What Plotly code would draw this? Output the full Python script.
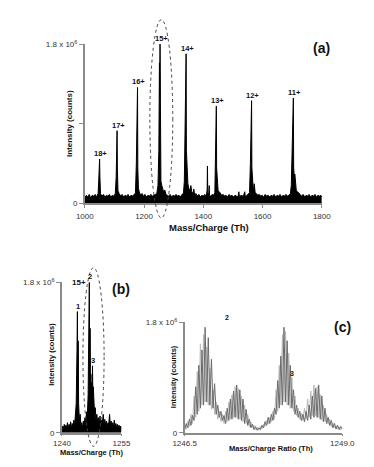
import plotly.graph_objects as go

W, H = 374, 467


def px(x):
    return x / W


def py(y):
    return 1 - y / H


FONT = "Liberation Sans, Arial, sans-serif"
SCALE = 1e6

# ---------------- Panel (a): full spectrum ----------------
a_mz = [1000, 1005, 1010, 1015, 1020, 1025, 1030, 1035, 1040, 1045, 1047, 1049, 1050, 1051, 1053,
        1058, 1063, 1068, 1073, 1078, 1083, 1088, 1093, 1098, 1103, 1106, 1108, 1109, 1110, 1112,
        1116, 1121, 1126, 1131, 1136, 1141, 1146, 1151, 1156, 1161, 1166, 1171, 1174, 1176, 1177,
        1178, 1179, 1181, 1184, 1188, 1193, 1198, 1203, 1208, 1213, 1218, 1223, 1228, 1233, 1238,
        1243, 1247, 1250, 1252, 1253, 1254, 1255, 1257, 1260, 1263, 1266, 1270, 1274, 1278, 1283,
        1288, 1293, 1298, 1303, 1308, 1313, 1318, 1323, 1328, 1333, 1336, 1338, 1339, 1341, 1342,
        1343, 1345, 1348, 1351, 1355, 1358, 1361, 1365, 1368, 1371, 1375, 1380, 1385, 1390, 1395,
        1400, 1405, 1410, 1413, 1414, 1415, 1418, 1420, 1421, 1425, 1430, 1435, 1439, 1441, 1442,
        1443, 1444, 1445, 1447, 1450, 1454, 1458, 1462, 1467, 1472, 1477, 1482, 1487, 1492, 1497,
        1502, 1507, 1512, 1517, 1520, 1522, 1527, 1532, 1537, 1540, 1542, 1547, 1552, 1556, 1559,
        1561, 1562, 1563, 1564, 1566, 1569, 1572, 1575, 1579, 1584, 1589, 1594, 1599, 1604, 1609,
        1614, 1619, 1624, 1629, 1634, 1639, 1644, 1649, 1654, 1659, 1664, 1669, 1674, 1679, 1684,
        1689, 1694, 1697, 1699, 1701, 1702, 1704, 1705, 1707, 1709, 1711, 1714, 1718, 1722, 1727,
        1732, 1737, 1742, 1747, 1752, 1757, 1762, 1767, 1772, 1777, 1782, 1787, 1792, 1797, 1800]
a_int = [0.06, 0.09, 0.07, 0.10, 0.06, 0.09, 0.08, 0.10, 0.07, 0.11, 0.25, 0.40, 0.50, 0.30, 0.11,
         0.08, 0.10, 0.07, 0.09, 0.08, 0.10, 0.07, 0.09, 0.08, 0.11, 0.30, 0.60, 0.82, 0.40, 0.14,
         0.11, 0.08, 0.10, 0.07, 0.09, 0.08, 0.10, 0.07, 0.09, 0.08, 0.10, 0.11, 0.45, 1.05, 0.70,
         1.31, 0.40, 0.17, 0.13, 0.09, 0.11, 0.08, 0.10, 0.07, 0.09, 0.08, 0.10, 0.08, 0.09, 0.10,
         0.11, 0.20, 0.60, 1.59, 1.20, 1.80, 0.70, 0.25, 0.20, 0.17, 0.13, 0.15, 0.10, 0.09, 0.08,
         0.10, 0.07, 0.09, 0.08, 0.10, 0.08, 0.09, 0.07, 0.10, 0.11, 0.25, 0.75, 0.80, 0.90, 1.69,
         0.60, 0.30, 0.22, 0.17, 0.14, 0.20, 0.13, 0.11, 0.16, 0.09, 0.11, 0.08, 0.10, 0.07, 0.09,
         0.08, 0.10, 0.08, 0.15, 0.42, 0.12, 0.09, 0.20, 0.09, 0.08, 0.10, 0.09, 0.12, 0.50, 0.86,
         0.60, 1.10, 0.40, 0.22, 0.14, 0.13, 0.11, 0.09, 0.10, 0.08, 0.09, 0.07, 0.10, 0.08, 0.09,
         0.07, 0.09, 0.08, 0.07, 0.13, 0.07, 0.09, 0.08, 0.10, 0.13, 0.07, 0.09, 0.10, 0.12, 0.45,
         0.85, 0.60, 1.16, 0.40, 0.20, 0.14, 0.22, 0.12, 0.11, 0.09, 0.10, 0.08, 0.09, 0.07, 0.10,
         0.08, 0.09, 0.07, 0.09, 0.08, 0.10, 0.07, 0.09, 0.08, 0.10, 0.07, 0.09, 0.08, 0.10, 0.08,
         0.09, 0.11, 0.20, 0.50, 0.45, 0.80, 1.19, 0.40, 0.30, 0.33, 0.22, 0.14, 0.13, 0.11, 0.10,
         0.08, 0.10, 0.07, 0.09, 0.08, 0.10, 0.07, 0.09, 0.08, 0.10, 0.07, 0.09, 0.08, 0.09, 0.07]
a_peak_mz = [1050, 1109, 1178, 1254, 1342, 1444, 1563, 1704]
a_peak_int = [0.50, 0.82, 1.31, 1.80, 1.69, 1.10, 1.16, 1.19]
a_peak_lbl = ["18+", "17+", "16+", "15+", "14+", "13+", "12+", "11+"]
a_xticks = [1000, 1200, 1400, 1600, 1800]

# ---------------- Panel (b): 15+ charge state ----------------
b_mz = [1240.0, 1240.2, 1240.4, 1240.6, 1240.8, 1241.0, 1241.2, 1241.4, 1241.6, 1241.8, 1242.0,
        1242.2, 1242.4, 1242.6, 1242.8, 1243.0, 1243.2, 1243.4, 1243.6, 1243.8, 1243.9, 1244.0,
        1244.1, 1244.2, 1244.4, 1244.6, 1244.8, 1245.0, 1245.2, 1245.4, 1245.6, 1245.8, 1246.0,
        1246.2, 1246.4, 1246.6, 1246.7, 1246.8, 1246.9, 1247.0, 1247.1, 1247.2, 1247.3, 1247.4,
        1247.5, 1247.6, 1247.7, 1247.8, 1247.9, 1248.0, 1248.1, 1248.2, 1248.4, 1248.6, 1248.8,
        1249.0, 1249.2, 1249.4, 1249.6, 1249.8, 1250.0, 1250.2, 1250.4, 1250.6, 1250.8, 1251.0,
        1251.2, 1251.4, 1251.6, 1251.8, 1252.0, 1252.2, 1252.4, 1252.6, 1252.8, 1253.0, 1253.2,
        1253.4, 1253.6, 1253.8, 1254.0, 1254.2, 1254.4, 1254.6, 1254.8, 1255.0]
b_int = [0.02, 0.08, 0.05, 0.10, 0.04, 0.09, 0.06, 0.12, 0.05, 0.10, 0.07,
         0.13, 0.06, 0.11, 0.08, 0.15, 0.09, 0.20, 0.35, 1.00, 1.45, 0.60,
         1.10, 0.35, 0.15, 0.22, 0.08, 0.12, 0.06, 0.14, 0.09, 0.18, 0.12,
         0.25, 0.20, 0.45, 1.30, 0.70, 1.80, 0.80, 1.25, 0.55, 0.70, 0.45,
         0.60, 0.40, 0.80, 0.45, 0.55, 0.30, 0.45, 0.25, 0.30, 0.15, 0.22,
         0.12, 0.18, 0.10, 0.20, 0.08, 0.15, 0.12, 0.22, 0.10, 0.16, 0.09,
         0.14, 0.07, 0.12, 0.10, 0.22, 0.09, 0.14, 0.06, 0.12, 0.08, 0.15,
         0.06, 0.11, 0.05, 0.10, 0.06, 0.09, 0.04, 0.08, 0.05]
b_lbl_mz = [1243.9, 1246.9, 1247.7]
b_lbl_int = [1.45, 1.80, 0.80]
b_lbl = ["1", "2", "3"]

# ---------------- Panel (c): zoom on peaks 2 and 3 ----------------
c_mz = [1246.500, 1246.525, 1246.550, 1246.575, 1246.600, 1246.625, 1246.650, 1246.675, 1246.700,
        1246.725, 1246.750, 1246.775, 1246.800, 1246.825, 1246.850, 1246.875, 1246.900, 1246.925,
        1246.950, 1246.975, 1247.000, 1247.025, 1247.050, 1247.075, 1247.100, 1247.125, 1247.150,
        1247.175, 1247.200, 1247.225, 1247.250, 1247.275, 1247.300, 1247.325, 1247.350, 1247.375,
        1247.400, 1247.425, 1247.450, 1247.475, 1247.500, 1247.525, 1247.550, 1247.575, 1247.600,
        1247.625, 1247.650, 1247.675, 1247.700, 1247.725, 1247.750, 1247.775, 1247.800, 1247.825,
        1247.850, 1247.875, 1247.900, 1247.925, 1247.950, 1247.975, 1248.000, 1248.025, 1248.050,
        1248.075, 1248.100, 1248.125, 1248.150, 1248.175, 1248.200, 1248.225, 1248.250, 1248.275,
        1248.300, 1248.325, 1248.350, 1248.375, 1248.400, 1248.425, 1248.450, 1248.475, 1248.500,
        1248.525, 1248.550, 1248.575, 1248.600, 1248.625, 1248.650, 1248.675, 1248.700, 1248.725,
        1248.750, 1248.775, 1248.800, 1248.825, 1248.850, 1248.875, 1248.900, 1248.925, 1248.950,
        1248.975, 1249.000]
c_int_dark = [0.05, 0.15, 0.08, 0.22, 0.12, 0.28, 0.20, 0.75, 0.30, 1.10, 0.40, 1.35, 0.45, 1.72,
              0.50, 1.55, 0.45, 1.20, 0.40, 0.80, 0.30, 0.45, 0.25, 0.35, 0.20, 0.28, 0.15, 0.40,
              0.20, 0.55, 0.22, 0.68, 0.25, 0.78, 0.22, 0.70, 0.20, 0.55, 0.15, 0.38, 0.12, 0.22,
              0.08, 0.14, 0.05, 0.10, 0.04, 0.08, 0.05, 0.12, 0.08, 0.18, 0.12, 0.25, 0.15, 0.30,
              0.20, 0.40, 0.30, 0.85, 0.40, 1.25, 0.45, 1.72, 0.50, 1.50, 0.45, 1.10, 0.40, 0.70,
              0.30, 0.45, 0.25, 0.35, 0.20, 0.30, 0.18, 0.35, 0.20, 0.45, 0.22, 0.60, 0.25, 0.72,
              0.25, 0.78, 0.22, 0.60, 0.18, 0.40, 0.15, 0.25, 0.12, 0.20, 0.08, 0.15, 0.06, 0.12,
              0.05, 0.10, 0.06]
c_int_light = [0.10, 0.06, 0.18, 0.10, 0.30, 0.15, 0.60, 0.25, 1.00, 0.35, 1.45, 0.45, 1.60, 0.50,
               1.40, 0.45, 1.05, 0.38, 0.70, 0.30, 0.50, 0.22, 0.35, 0.18, 0.30, 0.15, 0.35, 0.18,
               0.50, 0.22, 0.62, 0.25, 0.75, 0.25, 0.72, 0.22, 0.60, 0.18, 0.45, 0.15, 0.30, 0.10,
               0.18, 0.08, 0.12, 0.05, 0.08, 0.04, 0.10, 0.06, 0.14, 0.10, 0.20, 0.14, 0.25, 0.18,
               0.35, 0.22, 0.70, 0.35, 1.10, 0.45, 1.60, 0.50, 1.65, 0.45, 1.30, 0.40, 0.90, 0.35,
               0.60, 0.28, 0.40, 0.22, 0.32, 0.20, 0.40, 0.22, 0.55, 0.25, 0.68, 0.28, 0.78, 0.28,
               0.75, 0.25, 0.62, 0.20, 0.45, 0.18, 0.30, 0.14, 0.22, 0.10, 0.16, 0.08, 0.12, 0.06,
               0.10, 0.05, 0.08]
c_lbl3_mz = 1248.2
c_lbl3_int = 0.96

fig = go.Figure()

fig.add_trace(go.Scatter(x=a_mz, y=[v * SCALE for v in a_int], mode="lines",
                         line=dict(color="black", width=1), fill="tozeroy", fillcolor="black",
                         xaxis="x", yaxis="y", showlegend=False, hoverinfo="skip"))
fig.add_trace(go.Scatter(x=b_mz, y=[v * SCALE for v in b_int], mode="lines",
                         line=dict(color="black", width=1), fill="tozeroy", fillcolor="black",
                         xaxis="x2", yaxis="y2", showlegend=False, hoverinfo="skip"))
fig.add_trace(go.Scatter(x=c_mz, y=[v * SCALE for v in c_int_light], mode="lines",
                         line=dict(color="#b8b8b8", width=1),
                         xaxis="x3", yaxis="y3", showlegend=False, hoverinfo="skip"))
fig.add_trace(go.Scatter(x=c_mz, y=[v * SCALE for v in c_int_dark], mode="lines",
                         line=dict(color="#6a6a6a", width=1),
                         xaxis="x3", yaxis="y3", showlegend=False, hoverinfo="skip"))

tickfont = dict(family=FONT, size=8, color="#333")
axcommon = dict(showgrid=False, zeroline=False, showline=True, linecolor="#8a8a8a",
                linewidth=1.5, ticks="outside", tickcolor="#8a8a8a",
                tickfont=tickfont, fixedrange=True)
ytxt = "1.8 x 10<sup>6</sup>"

layout = dict(
    width=W, height=H, autosize=False,
    margin=dict(l=0, r=0, t=0, b=0),
    paper_bgcolor="white", plot_bgcolor="white",
    font=dict(family=FONT, color="#222"),
    xaxis=dict(domain=[px(78), px(332)], range=[1000, 1800], tickvals=a_xticks,
               anchor="y", ticklen=3, ticklabelstandoff=1, **axcommon),
    yaxis=dict(domain=[py(202), py(39)], range=[0, 1.8 * SCALE],
               tickvals=[0, 0.9 * SCALE, 1.8 * SCALE], ticktext=["0", " ", ytxt],
               anchor="x", ticklen=4, **axcommon),
    xaxis2=dict(domain=[px(53.5), px(117.3)], range=[1240, 1255], tickvals=[1240, 1255],
                anchor="y2", ticklen=2, ticklabelstandoff=0, **axcommon),
    yaxis2=dict(domain=[py(437), py(283)], range=[0, 1.8 * SCALE],
                tickvals=[0, 1.8 * SCALE], ticktext=["0", ytxt], anchor="x2", ticklen=4,
                **axcommon),
    xaxis3=dict(domain=[px(185), px(354)], range=[1246.5, 1249.0], tickvals=[1246.5, 1249.0],
                ticktext=["1246.5", "1249.0"], anchor="y3", ticklen=2, ticklabelstandoff=0,
                **axcommon),
    yaxis3=dict(domain=[py(437), py(324)], range=[0, 1.8 * SCALE],
                tickvals=[0, 1.8 * SCALE], ticktext=["0", ytxt], anchor="x3", ticklen=4,
                **axcommon),
)

ann = []
# peak charge labels in (a)
for m, v, t in zip(a_peak_mz, a_peak_int, a_peak_lbl):
    ann.append(dict(x=m, y=v * SCALE, xref="x", yref="y", text=f"<b>{t}</b>", showarrow=False,
                    xanchor="center", yanchor="bottom", xshift=1, yshift=-1,
                    font=dict(family=FONT, size=7.5, color="#111")))
# peak labels in (b)
for m, v, t in zip(b_lbl_mz, b_lbl_int, b_lbl):
    ann.append(dict(x=m, y=v * SCALE, xref="x2", yref="y2", text=f"<b>{t}</b>", showarrow=False,
                    xanchor="center", yanchor="bottom", xshift=1, yshift=-1,
                    font=dict(family=FONT, size=7.5, color="#111")))
ann.append(dict(x=px(62), y=py(283), xref="paper", yref="paper", text="<b>15+</b>",
                showarrow=False, xanchor="left", yanchor="middle",
                font=dict(family=FONT, size=8, color="#111")))
# labels in (c)
ann.append(dict(x=px(230), y=py(319), xref="paper", yref="paper", text="<b>2</b>",
                showarrow=False, xanchor="center", yanchor="middle",
                font=dict(family=FONT, size=7, color="#111")))
ann.append(dict(x=c_lbl3_mz, y=c_lbl3_int * SCALE, xref="x3", yref="y3", text="<b>3</b>",
                showarrow=False, xanchor="center", yanchor="middle",
                font=dict(family=FONT, size=7, color="#111")))

# panel letters
for t, x, y in [("(a)", 332, 43), ("(b)", 117, 290), ("(c)", 354, 329)]:
    ann.append(dict(x=px(x), y=py(y), xref="paper", yref="paper", text=f"<b>{t}</b>",
                    showarrow=False, xanchor="center", yanchor="middle",
                    font=dict(family=FONT, size=14, color="#111")))

# axis titles
titles = [
    ("Mass/Charge (Th)", 211, 227, 0, 9.5),
    ("Intensity (counts)", 61, 120, -90, 8),
    ("Mass/Charge (Th)", 85.5, 457.5, 0, 7.5),
    ("Intensity (counts)", 42, 357, -90, 7.5),
    ("Mass/Charge Ratio (Th)", 278, 453.5, 0, 7.5),
    ("Intensity (counts)", 172.7, 380, -90, 7.5),
]
for t, x, y, ang, sz in titles:
    ann.append(dict(x=px(x), y=py(y), xref="paper", yref="paper", text=f"<b>{t}</b>",
                    showarrow=False, xanchor="center", yanchor="middle", textangle=ang,
                    font=dict(family=FONT, size=sz, color="#111")))

layout["annotations"] = ann

# dotted ellipses marking the 15+ charge state and peaks 2/3
layout["shapes"] = [
    dict(type="circle", xref="paper", yref="paper", x0=px(147.7), x1=px(172.3),
         y0=py(217), y1=py(14), line=dict(color="#444", width=1, dash="dot")),
    dict(type="circle", xref="paper", yref="paper", x0=px(76), x1=px(98.7),
         y0=py(451), y1=py(268), line=dict(color="#444", width=1, dash="dot")),
]

fig.update_layout(**layout)
fig.write_html("out.html", config={"displayModeBar": False},
               post_script="document.body.style.margin='0';")
